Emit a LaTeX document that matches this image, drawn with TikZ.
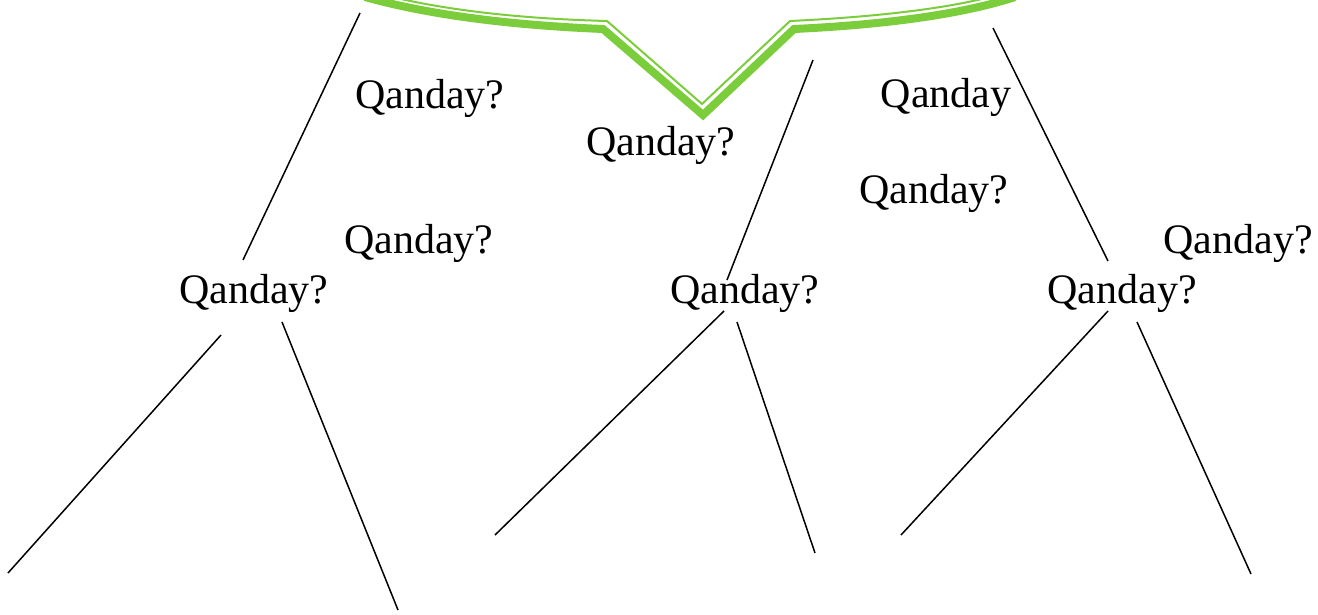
\documentclass[tikz,border=0pt]{standalone}
\usepackage{fontspec}
\setmainfont{Liberation Serif}
\usetikzlibrary{positioning}
\definecolor{bubblegreen}{RGB}{124,205,60}
\tikzset{
  question/.style={inner sep=0pt, font=\fontsize{21}{24}\selectfont},
  branch/.style={draw=black, line width=0.75pt},
  rimthick/.style={draw=bubblegreen, line width=4pt, line join=miter},
  rimthin/.style={draw=bubblegreen, line width=1pt, line join=miter}
}

\begin{document}
\begin{tikzpicture}[x=0.5pt,y=-0.5pt]
  \useasboundingbox (0,0) rectangle (1318,615);
  % the green bubble rim at the top
  \draw[rimthick] (365,-3) .. controls (440,18) and (530,26) .. (603,29)
    -- (703,115) -- (794,29) .. controls (880,25) and (960,15) .. (1015,-3);
  \draw[rimthin] (376,-7) .. controls (448,12) and (532,19) .. (607,21)
    -- (702,104) -- (790,21) .. controls (876,17) and (956,8) .. (1004,-7);
  % the questions
  \node[question] (q1) at (430,98) {Qanday?};
  \node[question] (q2) at (661,145) {Qanday?};
  \node[question] (q3) at (946,97) {Qanday};
  \node[question] (q4) at (934,193) {Qanday?};
  \node[question] (q5) at (419,243) {Qanday?};
  \node[question] (q6) at (1238,243) {Qanday?};
  \node[question] (left) at (254,293) {Qanday?};
  \node[question] (mid) at (745,293) {Qanday?};
  \node[question] (right) at (1122,293) {Qanday?};
  % free ends of the branches
  \coordinate (lt) at (360,13);
  \coordinate (lta) at (243,260);
  \coordinate (lb1) at (221,335);
  \coordinate (lb1e) at (8,573);
  \coordinate (lb2) at (282,322);
  \coordinate (lb2e) at (398,610);
  \coordinate (mt) at (813,60);
  \coordinate (mta) at (727,280);
  \coordinate (mb1) at (724,311);
  \coordinate (mb1e) at (495,535);
  \coordinate (mb2) at (737,322);
  \coordinate (mb2e) at (815,553);
  \coordinate (rt) at (993,28);
  \coordinate (rta) at (1108,261);
  \coordinate (rb1) at (1108,311);
  \coordinate (rb1e) at (901,535);
  \coordinate (rb2) at (1137,322);
  \coordinate (rb2e) at (1251,574);
  % Draw the branches
  \draw[branch] (lt) -- (lta);
  \draw[branch] (lb1) -- (lb1e);
  \draw[branch] (lb2) -- (lb2e);
  \draw[branch] (mt) -- (mta);
  \draw[branch] (mb1) -- (mb1e);
  \draw[branch] (mb2) -- (mb2e);
  \draw[branch] (rt) -- (rta);
  \draw[branch] (rb1) -- (rb1e);
  \draw[branch] (rb2) -- (rb2e);
\end{tikzpicture}
\end{document}
